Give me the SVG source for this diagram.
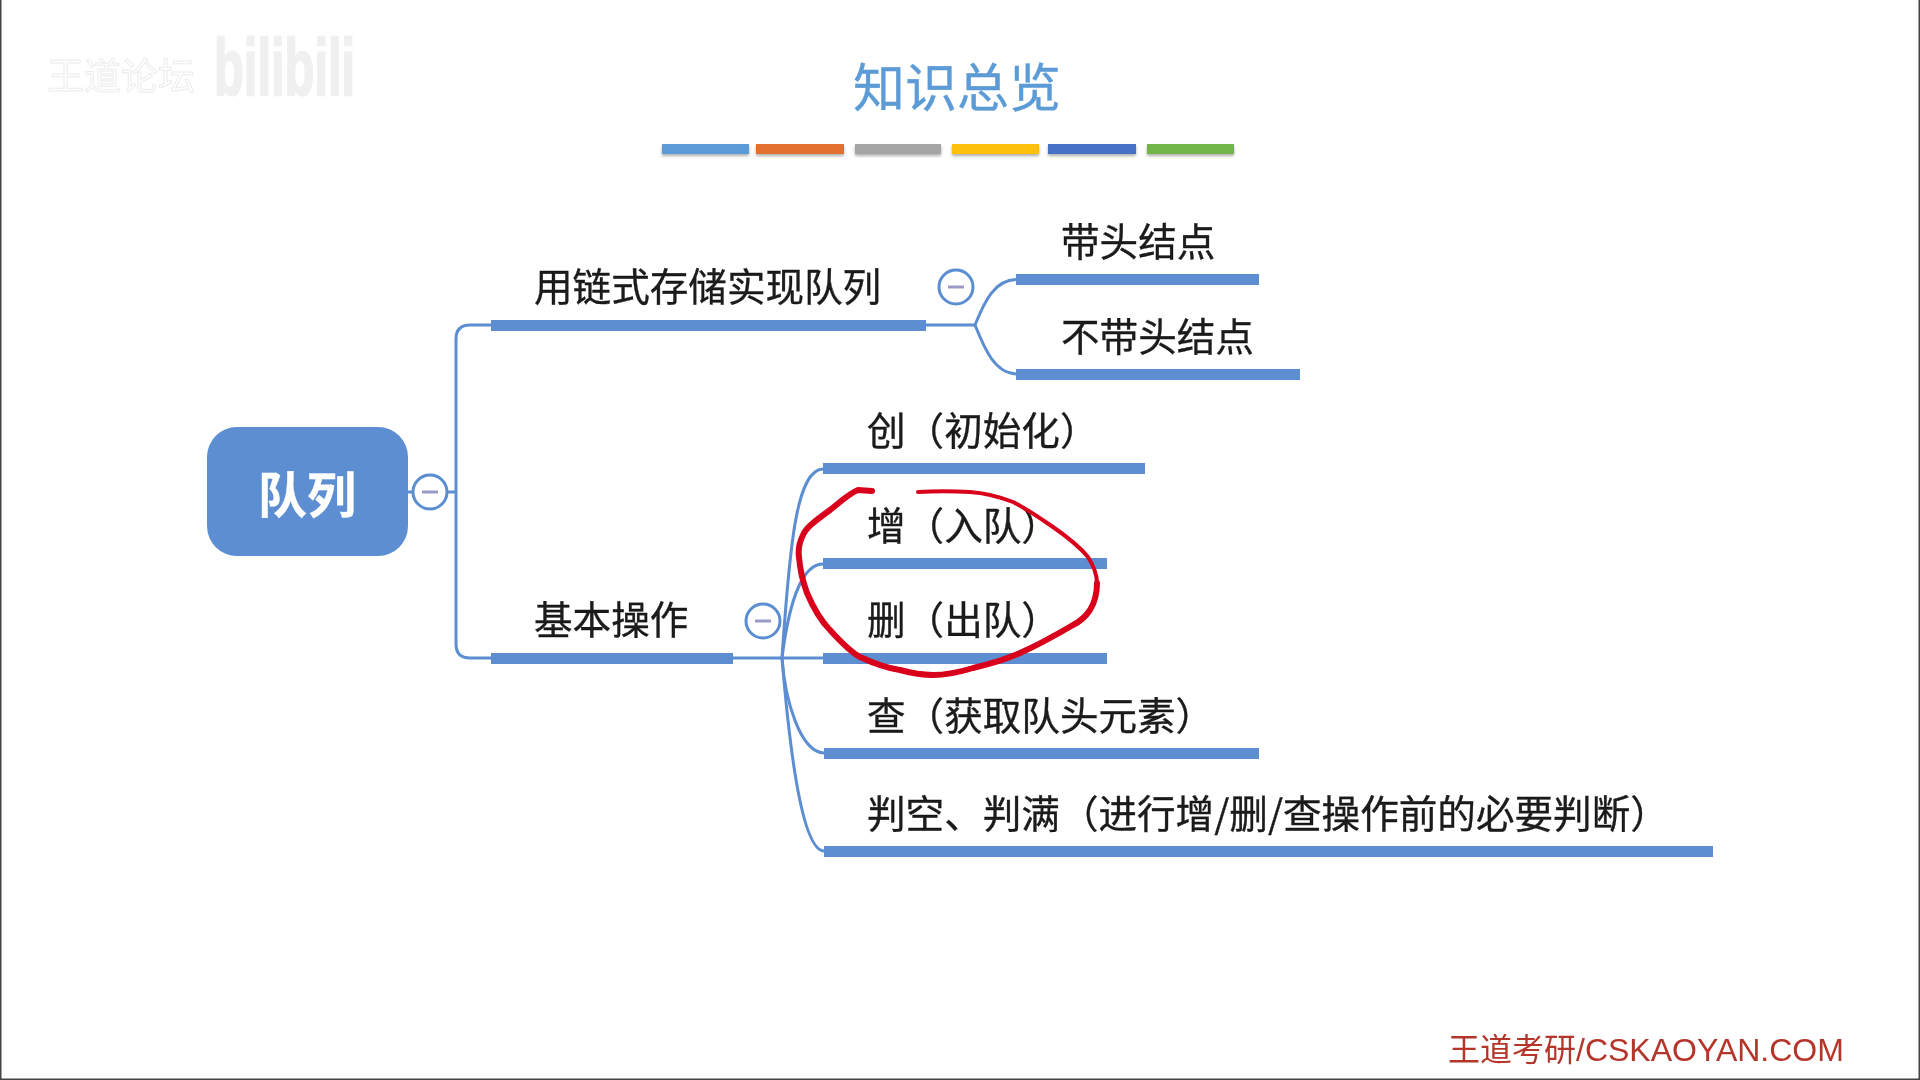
<svg xmlns="http://www.w3.org/2000/svg" width="1920" height="1080" viewBox="0 0 1920 1080">
<defs>
<style>
text{font-family:"Noto Sans CJK SC","Liberation Sans",sans-serif;fill:#1a1a1a;font-size:38.600px;stroke:#1a1a1a;stroke-width:0.350}
.bar{fill:#5b8ed1}
.line{fill:none;stroke:#5b8ed1;stroke-width:3}
.toggle circle{fill:#fff;stroke:#5b8ed1;stroke-width:3}
.toggle line{stroke:#9a9ac8;stroke-width:3}
.tb{filter:url(#shadow)}
.red{fill:none;stroke:#d9001b;stroke-linecap:round;stroke-linejoin:round}
</style>
<filter id="soft" x="-5%" y="-20%" width="110%" height="140%"><feGaussianBlur stdDeviation="0.7"/></filter>
<filter id="shadow" x="-5%" y="-30%" width="110%" height="190%"><feDropShadow dx="0" dy="2" stdDeviation="1.5" flood-color="#777" flood-opacity="0.6"/></filter>
</defs>
<rect width="1920" height="1080" fill="#fff"/>
<rect x="0" y="0" width="1.500" height="1080" fill="#444"/>
<rect x="1918.500" y="0" width="1.500" height="1080" fill="#444"/>
<rect x="0" y="1078.500" width="1920" height="1.500" fill="#444"/>
<g id="watermark" filter="url(#soft)">
<text x="47" y="90" style="font-size:37px;fill:#fff;stroke:#ececec;stroke-width:1">王道论坛</text>
<text x="0" y="0" transform="translate(214 95) scale(0.94 1.55)" style="font-family:'Liberation Sans',sans-serif;font-weight:700;font-size:52px;fill:#f0f0f0;stroke:#f0f0f0;stroke-width:1.500">bilibili</text>
</g>
<g id="title" filter="url(#soft)">
<text x="853" y="107" style="font-size:52px;fill:#5b9bd5;stroke:#5b9bd5;stroke-width:0.300">知识总览</text>
</g>
<g id="title-bars">
<rect class="tb" x="662" y="144" width="87" height="10" fill="#5b9bd5"/>
<rect class="tb" x="756" y="144" width="88" height="10" fill="#e46f2f"/>
<rect class="tb" x="855" y="144" width="86" height="10" fill="#a5a5a5"/>
<rect class="tb" x="952" y="144" width="87" height="10" fill="#fcc00b"/>
<rect class="tb" x="1048" y="144" width="88" height="10" fill="#4472c4"/>
<rect class="tb" x="1147" y="144" width="87" height="10" fill="#6fb545"/>
</g>
<g id="connectors" filter="url(#soft)">
<path class="line" d="M408 492H456"/>
<path class="line" d="M491 325H470Q456 325 456 339V644Q456 658 470 658H491"/>
<path class="line" d="M926 325H975"/>
<path class="line" d="M975 325C985 300 995 280 1016 279.500"/>
<path class="line" d="M975 325C985 350 995 373 1016 374"/>
<path class="line" d="M733 658H823"/>
<path class="line" d="M782 658C790 540 797 470 823 469"/>
<path class="line" d="M782 658C788 610 800 564 823 564"/>
<path class="line" d="M782 658C785 700 800 752 824 753"/>
<path class="line" d="M782 658C788 730 800 850 824 851"/>
</g>
<g id="root" filter="url(#soft)">
<rect x="207" y="427" width="201" height="129" rx="30" fill="#5b8ed1"/>
<text x="258" y="513" style="font-size:49px;font-weight:700;fill:#fff;stroke:#fff">队列</text>
</g>
<g id="root-toggle" class="toggle"><circle cx="430" cy="492" r="17"/><line x1="422" y1="492" x2="438" y2="492"/></g>
<g id="n-chain" filter="url(#soft)"><rect class="bar" x="491" y="320" width="435" height="11"/><text x="534" y="301">用链式存储实现队列</text></g>
<g id="chain-toggle" class="toggle"><circle cx="956" cy="287" r="17"/><line x1="948" y1="287" x2="964" y2="287"/></g>
<g id="n-head" filter="url(#soft)"><rect class="bar" x="1016" y="274" width="243" height="11"/><text x="1061" y="256">带头结点</text></g>
<g id="n-nohead" filter="url(#soft)"><rect class="bar" x="1016" y="369" width="284" height="11"/><text x="1061" y="351">不带头结点</text></g>
<g id="n-basic" filter="url(#soft)"><rect class="bar" x="491" y="653" width="242" height="11"/><text x="534" y="634">基本操作</text></g>
<g id="basic-toggle" class="toggle"><circle cx="763" cy="621" r="17"/><line x1="755" y1="621" x2="771" y2="621"/></g>
<g id="n-create" filter="url(#soft)"><rect class="bar" x="823" y="463" width="322" height="11"/><text x="867" y="445">创（初始化）</text></g>
<g id="n-add" filter="url(#soft)"><rect class="bar" x="823" y="558" width="284" height="11"/><text x="867" y="540">增（入队）</text></g>
<g id="n-del" filter="url(#soft)"><rect class="bar" x="823" y="653" width="284" height="11"/><text x="867" y="634">删（出队）</text></g>
<g id="n-get" filter="url(#soft)"><rect class="bar" x="824" y="748" width="435" height="11"/><text x="867" y="730">查（获取队头元素）</text></g>
<g id="n-judge" filter="url(#soft)"><rect class="bar" x="824" y="846" width="889" height="11"/><text x="867" y="828">判空、判满（进行增/删/查操作前的必要判断）</text></g>
<g id="highlight" filter="url(#soft)">
<path class="red" stroke-width="6" d="M872 491L858 490C848 494 838 504 830 510C818 519 806 527 803 535C799 543 798 550 799 557C800 570 803 582 807 593C813 607 820 620 830 630C839 640 849 651 860 657C873 663 886 668 900 670C911 673 922 675 933 675C947 675 960 672 973 668C990 664 1005 660 1020 653C1038 645 1056 635 1073 625C1081 621 1086 616 1090 610C1095 602 1097 592 1097 583"/>
<path class="red" stroke-width="4" d="M1097 583C1097 574 1093 565 1088 557C1079 546 1066 536 1053 527C1040 518 1027 509 1013 502C1000 497 985 493 970 492C952 491 935 491 918 492"/>
</g>
<g id="footer" filter="url(#soft)">
<text x="1448" y="1061" style="font-size:32px;fill:#b5352a;stroke:none;font-family:'Liberation Sans','Noto Sans CJK SC',sans-serif">王道考研/CSKAOYAN.COM</text>
</g>
</svg>
